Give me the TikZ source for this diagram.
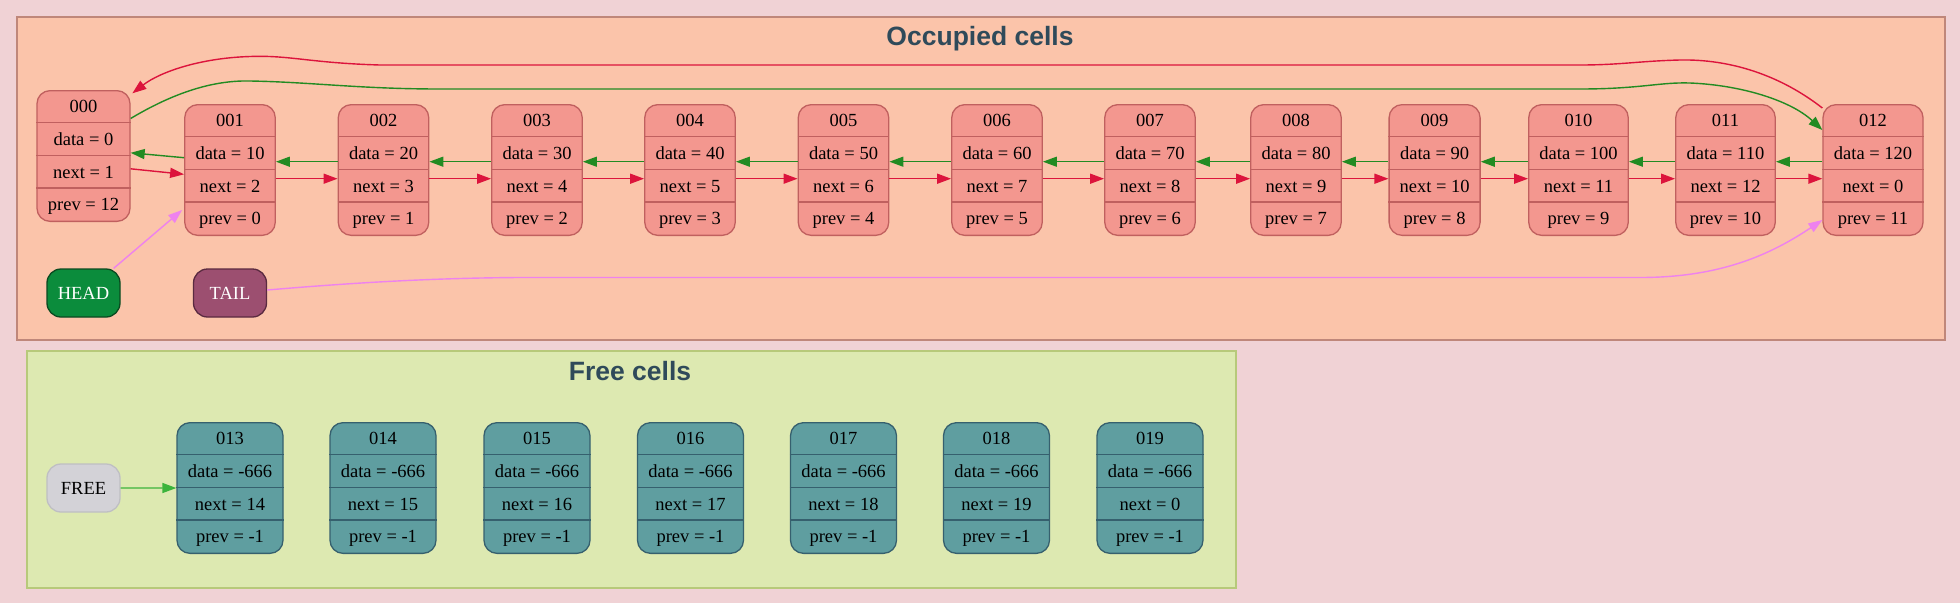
\documentclass[tikz,border=0pt]{standalone}
\usepackage{fontspec}
\setmainfont{Liberation Serif}
\newfontfamily\titlefont{Liberation Sans}
\usetikzlibrary{arrows.meta}
\definecolor{bgc}{HTML}{F0D2D5}
\definecolor{cl1fill}{HTML}{FBC4AA}
\definecolor{cl1draw}{HTML}{BF877A}
\definecolor{cl2fill}{HTML}{DDE9B1}
\definecolor{cl2draw}{HTML}{B7C97A}
\definecolor{occfillc}{HTML}{F3978F}
\definecolor{occdrawc}{HTML}{C0605F}
\definecolor{frefillc}{HTML}{5F9EA0}
\definecolor{fredrawc}{HTML}{36606E}
\definecolor{headfill}{HTML}{0B8C3C}
\definecolor{headdraw}{HTML}{0A4A20}
\definecolor{tailfill}{HTML}{9C4F70}
\definecolor{taildraw}{HTML}{5A2A40}
\definecolor{freefill}{HTML}{D3D2D7}
\definecolor{freedraw}{HTML}{BFBFC3}
\definecolor{titlec}{HTML}{2F4A5A}
\definecolor{redc}{HTML}{DC143C}
\definecolor{greenc}{HTML}{228B22}
\definecolor{violetc}{HTML}{EE82EE}
\definecolor{freearrc}{HTML}{3CB43C}
\tikzset{
  occ/.style={draw=occdrawc, fill=occfillc, line width=1.3pt, rounded corners=13pt, inner sep=0pt, minimum height=130.7pt},
  occsep/.style={draw=occdrawc, line width=1.3pt},
  fre/.style={draw=fredrawc, fill=frefillc, line width=1.3pt, rounded corners=13pt, inner sep=0pt, minimum height=130.7pt},
  fresep/.style={draw=fredrawc, line width=1.3pt},
  celltxt/.style={anchor=base, inner sep=0pt, font=\fontsize{18.5}{22}\selectfont},
  ptrbox/.style={line width=1.3pt, rounded corners=14pt, minimum width=73pt, minimum height=48pt, inner sep=0pt, font=\fontsize{18.5}{22}\selectfont},
  clusterbox/.style={line width=2pt, inner sep=0pt, anchor=north west},
  cltitle/.style={anchor=base, inner sep=0pt, text=titlec, font=\titlefont\bfseries\fontsize{26.5}{30}\selectfont},
  tipstyle/.style={-{Triangle[length=14pt,width=10pt]}},
  nextarr/.style={draw=redc, line width=1.4pt, tipstyle, fill=none},
  prevarr/.style={draw=greenc, line width=1.4pt, tipstyle, fill=none},
  ptrarr/.style={draw=violetc, line width=1.4pt, tipstyle, fill=none},
  freearr/.style={draw=freearrc, line width=1.4pt, tipstyle, fill=none},
}
\newcommand\recnode[9]{%
  \node[#5, minimum width=#4pt, anchor=north] (#1) at (#2,#3) {};
  \foreach \k in {1,2,3}{\draw[#5sep] ([yshift=-\k*32.7pt]#1.north west) -- ([yshift=-\k*32.7pt]#1.north east);}
  \node[celltxt] (#1t) at ([yshift=-22.8pt]#1.north) {#6};
  \node[celltxt] (#1d) at ([yshift=-55.5pt]#1.north) {#7};
  \node[celltxt] (#1n) at ([yshift=-88.2pt]#1.north) {#8};
  \node[celltxt] (#1p) at ([yshift=-120.9pt]#1.north) {#9};
}
\begin{document}
\begin{tikzpicture}[x=1pt,y=-1pt]
\useasboundingbox (0,0) rectangle (1960,603);
\fill[bgc] (0,0) rectangle (1960,603);
% clusters
\node[clusterbox, draw=cl1draw, fill=cl1fill, minimum width=1928pt, minimum height=323pt] (occupied) at (16,16) {};
\node[clusterbox, draw=cl2draw, fill=cl2fill, minimum width=1209pt, minimum height=237pt] (freecl) at (26,350) {};
\node[cltitle] (occtitle) at (980,45) {Occupied cells};
\node[cltitle] (fretitle) at (630,380) {Free cells};
% occupied cells
\recnode{c000}{83.5}{90}{93}{occ}{000}{data = 0}{next = 1}{prev = 12}
\recnode{c001}{230}{104}{90.5}{occ}{001}{data = 10}{next = 2}{prev = 0}
\recnode{c002}{383.5}{104}{90.5}{occ}{002}{data = 20}{next = 3}{prev = 1}
\recnode{c003}{537}{104}{90.5}{occ}{003}{data = 30}{next = 4}{prev = 2}
\recnode{c004}{690}{104}{90.5}{occ}{004}{data = 40}{next = 5}{prev = 3}
\recnode{c005}{843.5}{104}{90.5}{occ}{005}{data = 50}{next = 6}{prev = 4}
\recnode{c006}{997}{104}{90.5}{occ}{006}{data = 60}{next = 7}{prev = 5}
\recnode{c007}{1150}{104}{90.5}{occ}{007}{data = 70}{next = 8}{prev = 6}
\recnode{c008}{1296}{104}{90.5}{occ}{008}{data = 80}{next = 9}{prev = 7}
\recnode{c009}{1434.6}{104}{91}{occ}{009}{data = 90}{next = 10}{prev = 8}
\recnode{c010}{1578.5}{104}{99.5}{occ}{010}{data = 100}{next = 11}{prev = 9}
\recnode{c011}{1725.5}{104}{99.5}{occ}{011}{data = 110}{next = 12}{prev = 10}
\recnode{c012}{1873}{104}{100}{occ}{012}{data = 120}{next = 0}{prev = 11}
% free cells
\recnode{c013}{230}{422}{106}{fre}{013}{data = -666}{next = 14}{prev = -1}
\recnode{c014}{383}{422}{106}{fre}{014}{data = -666}{next = 15}{prev = -1}
\recnode{c015}{537}{422}{106}{fre}{015}{data = -666}{next = 16}{prev = -1}
\recnode{c016}{690.5}{422}{106}{fre}{016}{data = -666}{next = 17}{prev = -1}
\recnode{c017}{843.5}{422}{106}{fre}{017}{data = -666}{next = 18}{prev = -1}
\recnode{c018}{996.5}{422}{106}{fre}{018}{data = -666}{next = 19}{prev = -1}
\recnode{c019}{1150}{422}{106}{fre}{019}{data = -666}{next = 0}{prev = -1}
% pointer nodes
\node[ptrbox, draw=headdraw, fill=headfill, text=white] (head) at (83.5,293) {HEAD};
\node[ptrbox, draw=taildraw, fill=tailfill, text=white] (tail) at (230,293) {TAIL};
\node[ptrbox, draw=freedraw, fill=freefill, text=black] (free) at (83.5,488) {FREE};
% next / prev arrows
\draw[nextarr] ([yshift=-12.8pt]c000.east) -- ([yshift=-4.3pt]c001.west);
\draw[prevarr] ([yshift=12.3pt]c001.west) -- ([yshift=3.2pt]c000.east);
\foreach \a/\b in {c001/c002,c002/c003,c003/c004,c004/c005,c005/c006,c006/c007,c007/c008,c008/c009,c009/c010,c010/c011,c011/c012}{
  \draw[nextarr] ([yshift=-8.7pt]\a.east) -- ([yshift=-8.7pt]\b.west);
  \draw[prevarr] ([yshift=8.3pt]\b.west) -- ([yshift=8.3pt]\a.east);
}
% wrap-around arrows
\draw[nextarr] ([yshift=-4pt]c012.north west) .. controls (1780,75) and (1730,59) .. (1680,60)
  .. controls (1640,61) and (1620,65) .. (1580,65) -- (380,65)
  .. controls (310,63) and (290,55) .. (250,56.5)
  .. controls (200,58) and (160,72) .. ([shift={(1.7pt,-3.3pt)}]c000.north east);
\draw[prevarr] ([yshift=37.5pt]c000.east) .. controls (170,95) and (210,80) .. (250,81)
  .. controls (310,82) and (360,89) .. (440,89) -- (1580,89)
  .. controls (1640,89) and (1660,82) .. (1690,83)
  .. controls (1740,85) and (1790,100) .. ([yshift=-26pt]c012.north west);
% head / tail / free pointers
\draw[ptrarr] ([xshift=-7pt]head.north east) -- ([shift={(-2pt,26pt)}]c001.south west);
\draw[ptrarr] ([yshift=3pt]tail.east) .. controls (350,283) and (430,278) .. (520,277.5) -- (1640,277.5)
  .. controls (1720,277.5) and (1770,255) .. ([yshift=16pt]c012.south west);
\draw[freearr] (free.east) -- (c013.west);
\end{tikzpicture}
\end{document}
